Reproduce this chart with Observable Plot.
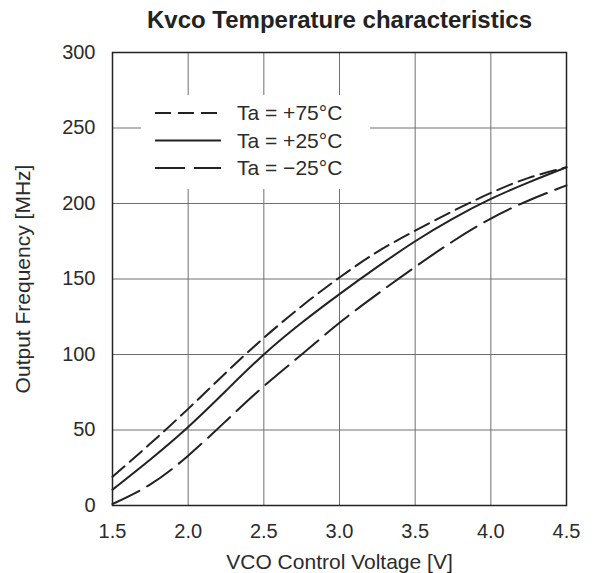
<!DOCTYPE html>
<html><head><meta charset="utf-8">
<script src="https://cdn.jsdelivr.net/npm/d3@7"></script>
<script src="https://cdn.jsdelivr.net/npm/@observablehq/plot@0.6"></script>
<style>
body{margin:0;background:#fff;font-family:"Liberation Sans",Arial,Helvetica,sans-serif;}
#wrap{position:relative;width:594px;height:573px;}
#legend{position:absolute;left:141px;top:95px;width:229px;height:94px;background:#fff;}
</style></head><body><div id="wrap"><div id="legend"></div></div>
<script>
const voltage=[1.5,1.75,2.0,2.25,2.5,2.75,3.0,3.25,3.5,3.75,4.0,4.25,4.5];
const freqP75=[19,41,64,88,111,132,151,168,182,195,207,217,224];
const freqP25=[10.5,30.5,52,76,100,121,140,158,175,190,203,214,224];
const freqM25=[1,14,33,56,79,100,121,140,158,175,190,202,212];
const seriesNames=["Ta = +75°C","Ta = +25°C","Ta = \u221225°C"];
const seriesDash=["16,7","none","30,9"];
const xTicks=[1.5,2.0,2.5,3.0,3.5,4.0,4.5];
const yTicks=[0,50,100,150,200,250,300];
const titleText="Kvco Temperature characteristics";
const xLabel="VCO Control Voltage [V]";
const yLabel="Output Frequency [MHz]";

const allFreq=[freqP75,freqP25,freqM25];
const rows=[];
seriesNames.forEach((s,i)=>voltage.forEach((v,j)=>rows.push({series:s,v,f:allFreq[i][j]})));

const ink="#222";
const textInk="#2b2b2b";
const chart=Plot.plot({
  width:594,height:573,
  marginTop:52,marginLeft:112,marginRight:28,marginBottom:68,
  style:{fontFamily:'"Liberation Sans",Arial,sans-serif',fontSize:"20px",color:textInk,background:"white"},
  x:{domain:[1.5,4.5],ticks:xTicks,tickFormat:d=>d.toFixed(1)},
  y:{domain:[0,300],ticks:yTicks},
  marks:[
    Plot.gridX(xTicks,{stroke:"#707070",strokeOpacity:1,strokeWidth:1}),
    Plot.gridY(yTicks,{stroke:"#707070",strokeOpacity:1,strokeWidth:1}),
    Plot.axisX(xTicks,{tickSize:0,tickPadding:18,label:null,fontSize:20,fill:textInk,tickFormat:d=>d.toFixed(1)}),
    Plot.axisY(yTicks,{tickSize:0,tickPadding:17,label:null,fontSize:20,fill:textInk}),
    ...seriesNames.map((s,i)=>Plot.line(rows.filter(r=>r.series===s),{x:"v",y:"f",curve:"natural",stroke:ink,strokeWidth:2,strokeDasharray:seriesDash[i]})),
    Plot.frame({stroke:ink,strokeWidth:1.5}),
    Plot.text([titleText],{frameAnchor:"top",dy:-32,lineAnchor:"middle",fontSize:24,fontWeight:"bold",fill:ink}),
    Plot.text([xLabel],{frameAnchor:"bottom",dy:57,lineAnchor:"middle",fontSize:21,fill:textInk}),
    Plot.text([yLabel],{frameAnchor:"left",dx:-89,rotate:-90,textAnchor:"middle",lineAnchor:"middle",fontSize:21,fill:textInk})
  ]
});
document.getElementById("wrap").prepend(chart);

// legend
const lg=d3.select("#legend").append("svg").attr("width",229).attr("height",94);
seriesNames.forEach((s,i)=>{
  const y=18+i*27.5;
  lg.append("line").attr("x1",14).attr("x2",80).attr("y1",y).attr("y2",y)
    .attr("stroke",ink).attr("stroke-width",2).attr("stroke-dasharray",seriesDash[i]);
  lg.append("text").attr("x",96).attr("y",y).attr("dy","0.35em")
    .attr("font-size",21).attr("fill",textInk).attr("font-family",'"Liberation Sans",Arial,sans-serif').text(s);
});
</script></body></html>
